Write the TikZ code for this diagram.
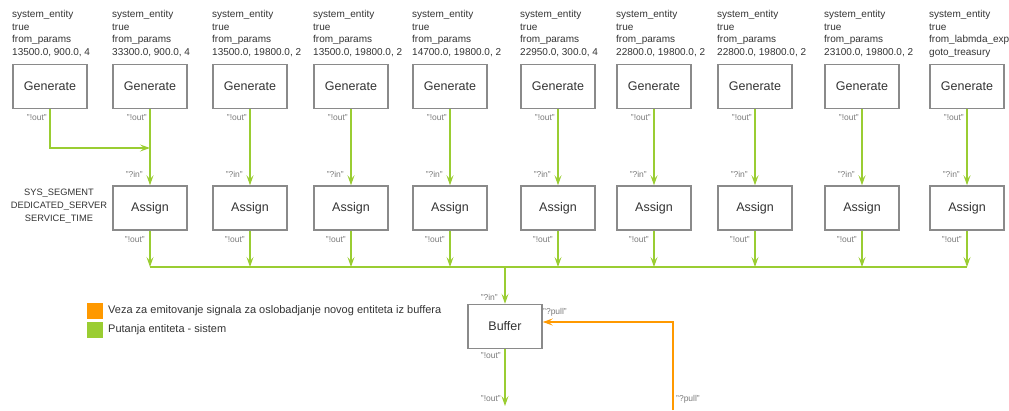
\documentclass[tikz,border=0pt]{standalone}
\usepackage{fontspec}
\setmainfont{Liberation Sans}
\usetikzlibrary{arrows.meta}
\definecolor{grn}{HTML}{9ACD32}
\definecolor{org}{HTML}{FF9900}
\definecolor{bx}{HTML}{8A8A8A}
\definecolor{lbl}{HTML}{7A7A7A}
\definecolor{txt}{HTML}{333333}
\begin{document}
\begin{tikzpicture}[x=1pt,y=-1pt,
  blk/.style={draw=bx, line width=1.5pt, minimum width=74pt, minimum height=44pt, inner sep=0pt,
    font=\fontsize{12.5}{14}\selectfont, text=txt},
  hdr/.style={anchor=north west, align=left, inner sep=0pt, font=\fontsize{10}{12.4}\selectfont, text=txt},
  port/.style={font=\fontsize{8.5}{10}\selectfont, text=lbl, inner sep=0pt},
  gline/.style={draw=grn, line width=1.2pt},
  garr/.style={gline, -{Stealth[length=10pt,width=7pt,inset=4pt]}},
  oarr/.style={draw=org, line width=1.2pt, -{Stealth[length=10pt,width=7pt,inset=4pt]}},
  legtxt/.style={anchor=west, inner sep=0pt, font=\fontsize{11}{13}\selectfont, text=txt}
]
\useasboundingbox (0,0) rectangle (1009,410);

% Generate blocks and headers
\foreach \i/\x/\p in {1/50/{13500.0, 900.0, 4},2/150/{33300.0, 900.0, 4},3/250/{13500.0, 19800.0, 2},
  4/351/{13500.0, 19800.0, 2},5/450/{14700.0, 19800.0, 2},6/558/{22950.0, 300.0, 4},
  7/654/{22800.0, 19800.0, 2},8/755/{22800.0, 19800.0, 2},9/862/{23100.0, 19800.0, 2}}{
  \node[blk] (g\i) at (\x,86.5) {Generate};
  \node[hdr] (h\i) at (\x-38,10.4) {system\_entity\\true\\from\_params\\\p};
}
\node[blk] (g10) at (967,86.5) {Generate};
\node[hdr] (h10) at (929,10.4) {system\_entity\\true\\from\_labmda\_exp\\goto\_treasury};

% Generate out labels
\foreach \i in {1,...,10}{
  \node[port, anchor=east] (go\i) at ([xshift=-3pt,yshift=-8.5pt]g\i.south) {"!out"};
}

% Assign blocks
\foreach \i/\x in {2/150,3/250,4/351,5/450,6/558,7/654,8/755,9/862,10/967}{
  \node[blk] (a\i) at (\x,208) {Assign};
  \coordinate (b\i) at (\x,267);
  \node[port, anchor=east] (ai\i) at ([xshift=-7pt,yshift=11pt]a\i.north) {"?in"};
  \node[port, anchor=east] (ao\i) at ([xshift=-5pt,yshift=-9pt]a\i.south) {"!out"};
  \draw[garr] (g\i.south) -- (a\i.north);
  \draw[garr] (a\i.south) -- (b\i);
}

\node[font=\fontsize{9.3}{13}\selectfont, align=center, text=txt, inner sep=0pt] (sys) at (59,206.5)
  {SYS\_SEGMENT\\DEDICATED\_SERVER\\SERVICE\_TIME};

% first generate joins the second path
\coordinate (j1) at (150,148);
\draw[garr] (g1.south) |- (j1);

% bus
\draw[gline] (b2) -- (b10);
\coordinate (bm) at (505,267);

% Buffer
\node[blk] (buf) at (505,326.5) {Buffer};
\draw[garr] (bm) -- (buf.north);
\coordinate (bo) at (505,406);
\draw[garr] (buf.south) -- (bo);
\coordinate (po) at (673,410);
\draw[oarr] (po) |- ([yshift=4.5pt]buf.east);

\node[port, anchor=east] (bin) at (498,297) {"?in"};
\node[port, anchor=west] (bpl) at (543,312) {"?pull"};
\node[port, anchor=east] (bout) at (501,356) {"!out"};
\node[port, anchor=east] (bout2) at (501,399) {"!out"};
\node[port, anchor=west] (ppl) at (676,399) {"?pull"};

% Legend
\node[fill=org, minimum size=16pt, inner sep=0pt] (lo) at (95,311) {};
\node[fill=grn, minimum size=16pt, inner sep=0pt] (lg) at (95,330) {};
\node[legtxt] (lot) at (108,311) {Veza za emitovanje signala za oslobadjanje novog entiteta iz buffera};
\node[legtxt] (lgt) at (108,330) {Putanja entiteta - sistem};
\end{tikzpicture}
\end{document}
